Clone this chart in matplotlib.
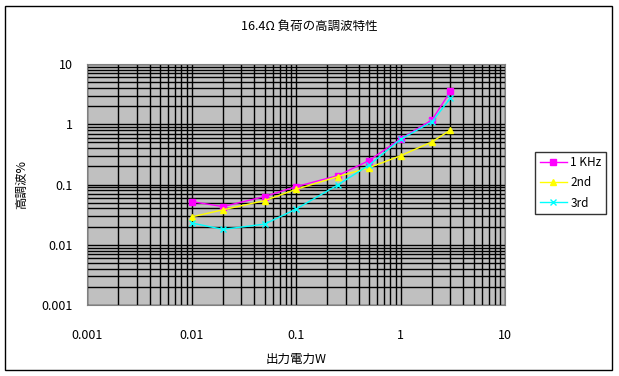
import matplotlib.pyplot as plt
from matplotlib.patches import Rectangle

plt.rcParams['font.family'] = ['Noto Sans CJK JP', 'DejaVu Sans']

# output power (W)
power = [0.01, 0.02, 0.05, 0.1, 0.25, 0.5, 1.0, 2.0, 3.0]
# harmonic distortion (%)
h_1khz = [0.052, 0.043, 0.063, 0.092, 0.14, 0.25, 0.57, 1.18, 3.5]
h_2nd = [0.029, 0.038, 0.054, 0.083, 0.135, 0.19, 0.30, 0.51, 0.80]
h_3rd = [0.023, 0.018, 0.022, 0.039, 0.098, 0.21, 0.56, 1.1, 2.7]

xticks = [0.001, 0.01, 0.1, 1, 10]
xtick_labels = ['0.001', '0.01', '0.1', '1', '10']
yticks = [0.001, 0.01, 0.1, 1, 10]
ytick_labels = ['0.001', '0.01', '0.1', '1', '10']

fig = plt.figure(figsize=(6.19, 3.76), dpi=100)
fig.patches.append(Rectangle((5 / 619, 6 / 376), 607 / 619, 364 / 376,
                             transform=fig.transFigure, fill=False,
                             edgecolor='black', linewidth=1))

ax = fig.add_axes([87 / 619, 1 - 305 / 376, 418 / 619, 241 / 376])
ax.set_facecolor('#c0c0c0')
ax.set_xscale('log')
ax.set_yscale('log')
ax.set_xlim(0.001, 10)
ax.set_ylim(0.001, 10)

ax.grid(True, which='both', color='black', linewidth=1.0)
ax.set_axisbelow(True)

ax.plot(power, h_1khz, color='#ff00ff', marker='s', markersize=5, linewidth=1, label='1 KHz')
ax.plot(power, h_2nd, color='#ffff00', marker='^', markersize=5, linewidth=1, label='2nd')
ax.plot(power, h_3rd, color='#00ffff', marker='x', markersize=4, linewidth=1, label='3rd')

ax.set_xticks(xticks)
ax.set_xticklabels(xtick_labels)
ax.set_yticks(yticks)
ax.set_yticklabels(ytick_labels)
ax.tick_params(which='both', length=0)
ax.tick_params(axis='x', pad=17, labelsize=9)
ax.tick_params(axis='y', pad=10, labelsize=9)

for s in ax.spines.values():
    s.set_color('#808080')

ax.set_xlabel('出力電力W', fontsize=9, labelpad=8)
ax.set_ylabel('高調波%', fontsize=9, labelpad=10)
fig.text(0.5, 1 - 26 / 376, '16.4Ω 負荷の高調波特性', ha='center', va='center', fontsize=9)

leg = ax.legend(loc='center left', bbox_to_anchor=(535 / 619, 1 - 183 / 376),
                bbox_transform=fig.transFigure, fontsize=8.5, frameon=True,
                fancybox=False, edgecolor='black', handlelength=2.3,
                borderpad=0.4, labelspacing=0.6, handletextpad=0.3,
                borderaxespad=0)
leg.get_frame().set_linewidth(1)

fig.savefig('out.png', dpi=100)
